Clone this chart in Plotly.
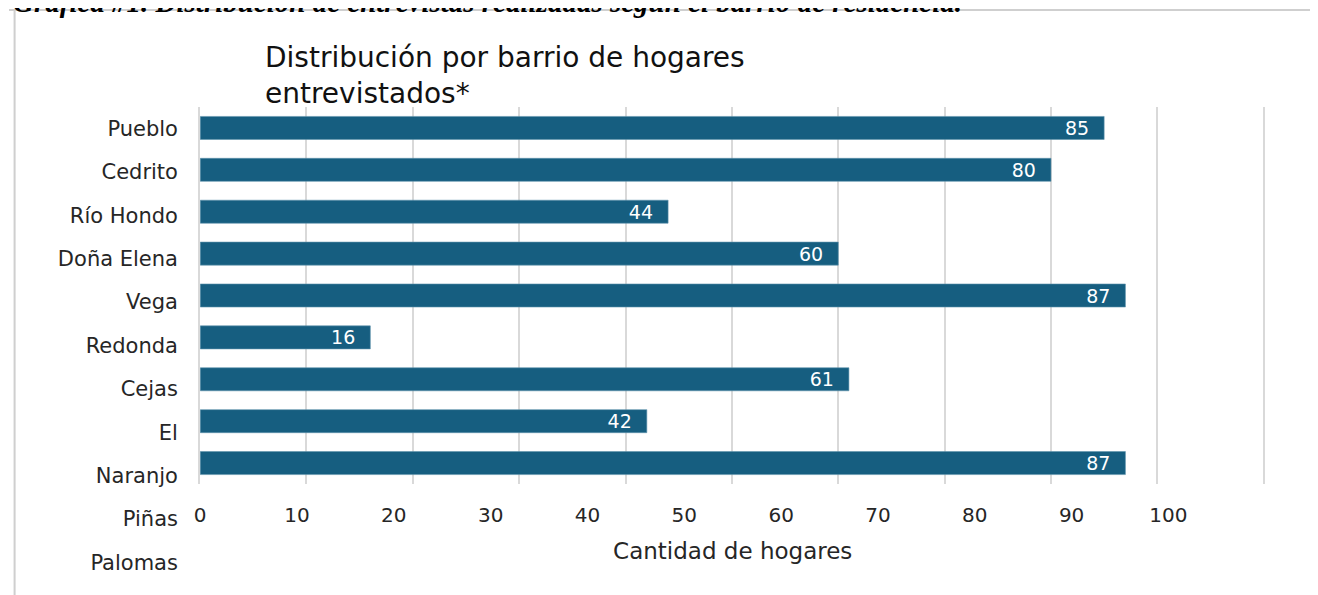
import plotly.graph_objects as go

W, H = 1318, 595
# page offset of the figure inside the photographed window (screen px)
OX, OY = 13, 8

# Data
bar_categories = ["Pueblo", "Cedrito", "Río Hondo", "Doña Elena", "Vega Redonda",
                  "Cejas", "El Naranjo", "Piñas", "Palomas"]
bar_values = [85, 80, 44, 60, 87, 16, 61, 42, 87]
axis_labels = ["Pueblo", "Cedrito", "Río Hondo", "Doña Elena", "Vega", "Redonda",
               "Cejas", "El", "Naranjo", "Piñas", "Palomas"]
x_tick_labels = ["0", "10", "20", "30", "40", "50", "60", "70", "80", "90", "100"]

title_text = "Distribución por barrio de hogares<br>entrevistados*"
caption_text = "Gráfica #1. Distribución de entrevistas realizadas según el barrio de residencia."
x_title = "Cantidad de hogares"

BAR_COLOR = "#165e80"
GRID = "#d9d9d9"
FONT = "DejaVu Sans"
TXT = "#262626"


def px_x(s):
    """screen x -> paper fraction"""
    return (s - OX) / W


def px_y(s):
    """screen y -> paper fraction"""
    return 1 - (s - OY) / H


fig = go.Figure()

fig.add_trace(go.Bar(
    x=bar_values, y=bar_categories, orientation="h",
    marker=dict(color=BAR_COLOR, line=dict(color="#5f93ad", width=0.6)),
    texttemplate="%{x}\u00a0\u00a0", textposition="inside",
    insidetextanchor="end", textangle=0, constraintext="none",
    textfont=dict(family=FONT, size=19, color="white"),
    hoverinfo="skip", showlegend=False,
    xaxis="x", yaxis="y",
))

# invisible helper trace carrying the (misaligned) category labels
fig.add_trace(go.Scatter(
    x=[0] * len(axis_labels), y=axis_labels, mode="markers",
    marker=dict(opacity=0, size=1), hoverinfo="skip", showlegend=False,
    xaxis="x2", yaxis="y2",
))

x_dom = [px_x(200), px_x(1270)]

fig.update_layout(
    width=W, height=H,
    margin=dict(l=0, r=0, t=0, b=0),
    paper_bgcolor="white", plot_bgcolor="rgba(0,0,0,0)",
    bargap=0.45,
    font=dict(family=FONT, color=TXT),
    xaxis=dict(domain=x_dom, range=[0, 100.15], dtick=10, tick0=0,
               showgrid=True, gridcolor=GRID, gridwidth=1.6,
               showticklabels=False, zeroline=False, showline=False,
               anchor="y", fixedrange=True),
    yaxis=dict(domain=[px_y(484), px_y(107)], type="category",
               categoryarray=bar_categories, autorange="reversed",
               showticklabels=False, showgrid=False, zeroline=False,
               showline=True, linecolor=GRID, linewidth=1.6,
               anchor="x", fixedrange=True),
    xaxis2=dict(overlaying="x", anchor="free", position=px_y(484),
                side="bottom", range=[0, 110],
                tickmode="array", tickvals=[i * 10 for i in range(len(x_tick_labels))],
                ticktext=x_tick_labels,
                showgrid=False, zeroline=False, showline=False,
                ticks="outside", ticklen=13, tickcolor="rgba(0,0,0,0)",
                tickfont=dict(family=FONT, size=20, color=TXT),
                title=dict(text=x_title, font=dict(family=FONT, size=23, color=TXT),
                           standoff=16),
                fixedrange=True),
    yaxis2=dict(domain=[px_y(584), px_y(107)], anchor="free", position=px_x(200),
                side="left", type="category", categoryarray=axis_labels,
                range=[len(axis_labels) - 0.5, -0.5],
                showgrid=False, zeroline=False, showline=False,
                ticks="outside", ticklen=18, tickcolor="rgba(0,0,0,0)",
                tickfont=dict(family=FONT, size=21, color=TXT),
                fixedrange=True),
    shapes=[
        dict(type="line", xref="paper", yref="paper", layer="below",
             x0=px_x(8), x1=1, y0=px_y(10), y1=px_y(10),
             line=dict(color="#cfcfcf", width=2)),
        dict(type="line", xref="paper", yref="paper", layer="below",
             x0=0.6 / W, x1=0.6 / W, y0=px_y(10), y1=0,
             line=dict(color="#cfcfcf", width=2)),
    ],
    annotations=[
        dict(text=title_text, xref="paper", yref="paper",
             x=px_x(263), y=px_y(39), xanchor="left", yanchor="top",
             align="left", showarrow=False,
             font=dict(family=FONT, size=28, color="#111111")),
        dict(text="<b><i>" + caption_text + "</i></b>", xref="paper", yref="paper",
             x=px_x(10), y=px_y(20), xanchor="left", yanchor="bottom",
             align="left", showarrow=False,
             font=dict(family="Liberation Serif", size=29, color="black")),
    ],
)

fig.write_html("out.html")
